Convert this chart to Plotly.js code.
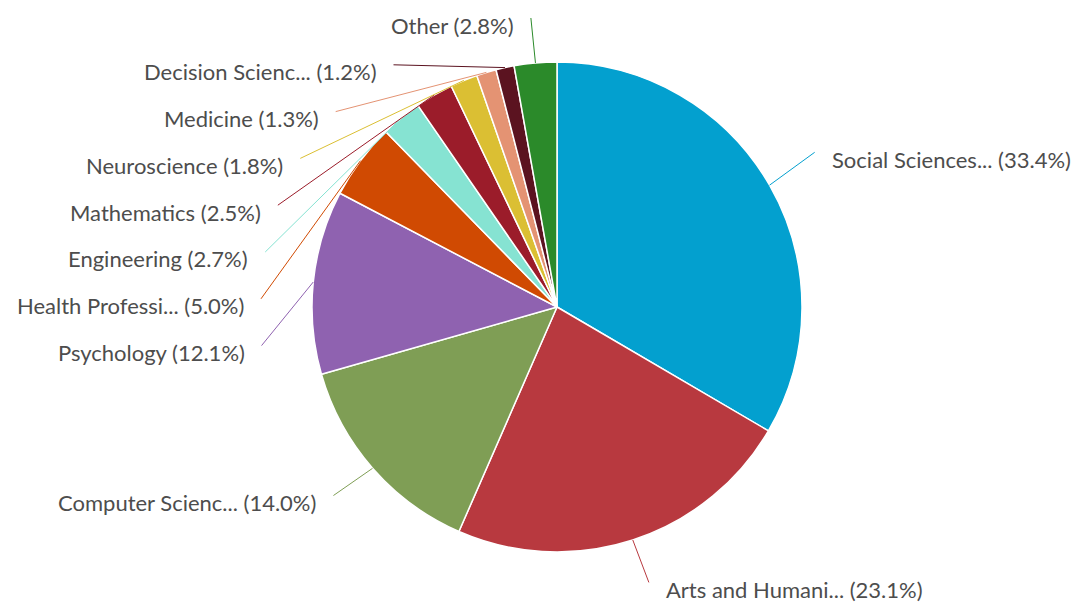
<!DOCTYPE html>
<html>
<head>
<meta charset="utf-8">
<script src="https://cdn.plot.ly/plotly-3.0.1.min.js"></script>
<style>html,body{margin:0;padding:0;background:#fff;}#chart{width:1075px;height:603px;}</style>
</head>
<body>
<div id="chart"></div>
<script>
// ---- data ----
const categories = ["Social Sciences...", "Arts and Humani...", "Computer Scienc...", "Psychology",
  "Health Professi...", "Engineering", "Mathematics", "Neuroscience", "Medicine",
  "Decision Scienc...", "Other"];
const shares = [33.4, 23.1, 14.0, 12.1, 5.0, 2.7, 2.5, 1.8, 1.3, 1.2, 2.8];
const colors = ["#03a0cf", "#b8393f", "#7f9e55", "#8f62b0", "#d04a02", "#86e3d2",
  "#9b1c2a", "#dbbf33", "#e49373", "#5b1320", "#2b8a2a"];

// ---- geometry (layout) ----
const W = 1075, H = 603;
const cx = 557, cy = 307, r = 245;
const labelR = 297, getXR = 275, getXPad = 21, spacing = 46.8, topMin = 25;

const total = shares.reduce((a, b) => a + b, 0);
let cum = 0;
const pts = shares.map((v, i) => {
  const a = (cum + v / 2) / total * 2 * Math.PI;
  cum += v;
  const s = Math.sin(a), c = Math.cos(a);
  return {i, s, c, side: s >= 0 ? 1 : -1,
    rimX: cx + r * s, rimY: cy - r * c,
    ny: cy - labelR * c, nx: labelR * Math.abs(s)};
});
[1, -1].forEach(side => {
  const list = pts.filter(p => p.side === side).sort((a, b) => a.ny - b.ny);
  let prev = -Infinity;
  list.forEach(p => {
    p.y = Math.max(p.ny, prev + spacing, topMin);
    prev = p.y;
  });
});
const px = x => x / W, py = y => 1 - y / H;
const annotations = [], shapes = [];
pts.forEach(p => {
  const dy = p.y - cy;
  const dx = Math.max(Math.sqrt(Math.max(0, getXR * getXR - dy * dy)) + getXPad, p.nx);
  const ex = cx + p.side * dx, ey = p.y - 7;
  shapes.push({type: 'line', xref: 'paper', yref: 'paper',
    x0: px(p.rimX), y0: py(p.rimY), x1: px(ex), y1: py(ey),
    line: {color: colors[p.i], width: 1}});
  annotations.push({xref: 'paper', yref: 'paper', x: px(cx + p.side * (dx + 15)), y: py(p.y),
    xanchor: p.side > 0 ? 'left' : 'right', yanchor: 'middle', showarrow: false,
    text: categories[p.i] + ' (' + shares[p.i].toFixed(1) + '%)',
    font: {family: 'Lato, "Open Sans", sans-serif', size: 22, color: '#4d4d4d'}});
});

const trace = {
  type: 'pie', labels: categories, values: shares, sort: false, direction: 'clockwise', rotation: 0,
  marker: {colors: colors, line: {color: '#ffffff', width: 1.5}},
  textinfo: 'none', hoverinfo: 'none', showlegend: false,
  domain: {x: [(cx - r) / W, (cx + r) / W], y: [1 - (cy + r) / H, 1 - (cy - r) / H]}
};
Plotly.newPlot('chart', [trace], {
  width: W, height: H, margin: {l: 0, r: 0, t: 0, b: 0},
  paper_bgcolor: '#ffffff', showlegend: false,
  shapes: shapes, annotations: annotations
}, {displayModeBar: false, staticPlot: true});
</script>
</body>
</html>
